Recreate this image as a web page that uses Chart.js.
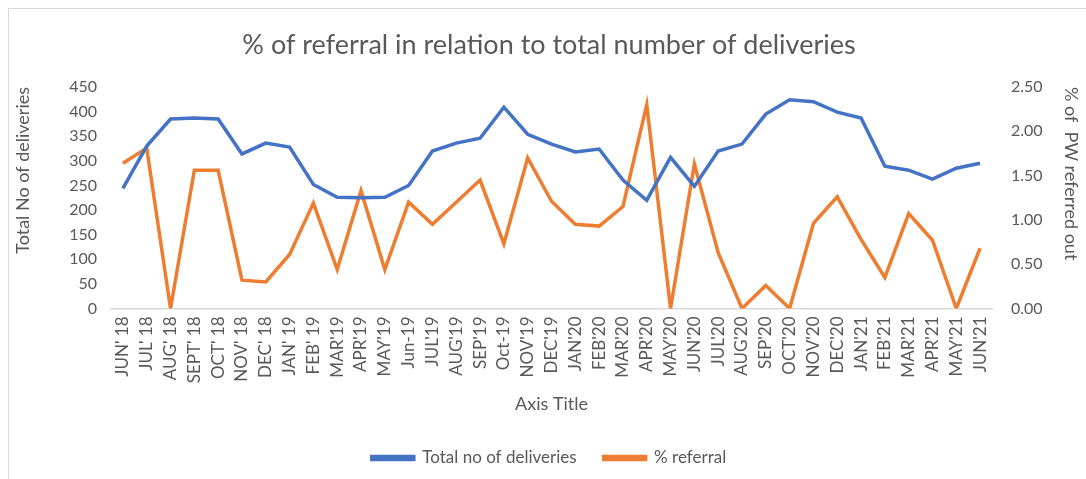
<!DOCTYPE html>
<html>
<head>
<meta charset="utf-8">
<script src="https://cdn.jsdelivr.net/npm/chart.js@4"></script>
<style>
  html, body { margin: 0; padding: 0; background: #fff; }
  #wrap { position: relative; width: 1086px; height: 479px; }
  #frame { position: absolute; left: 8px; top: 8px; right: -2px; bottom: -2px; border: 1px solid #d9d9d9; }
</style>
</head>
<body>
<div id="wrap">
  <div id="frame"></div>
  <canvas id="referralChart" width="1086" height="479"></canvas>
</div>
<script>
// months on the x axis
const months = ["JUN' 18", "JUL' 18", "AUG' 18", "SEPT' 18", "OCT' 18", "NOV' 18", "DEC' 18",
    "JAN' 19", "FEB' 19", "MAR'19", "APR'19", "MAY'19", "Jun-19", "JUL'19", "AUG'19", "SEP'19",
    "Oct-19", "NOV'19", "DEC'19", "JAN'20", "FEB'20", "MAR'20", "APR'20", "MAY'20", "JUN'20",
    "JUL'20", "AUG'20", "SEP'20", "OCT'20", "NOV'20", "DEC'20", "JAN'21", "FEB'21", "MAR'21",
    "APR'21", "MAY'21", "JUN'21"];

// total deliveries (left axis)
const totalDeliveries = [244, 330, 385, 387, 385, 314, 336, 328, 252, 226, 225, 226, 250,
    320, 336, 346, 409, 354, 334, 318, 324, 261, 220, 307, 248, 320, 334, 395, 424, 420,
    399, 387, 289, 281, 263, 285, 295];

// % referral (right axis)
const pctReferral = [1.64, 1.81, 0, 1.56, 1.56, 0.32, 0.30, 0.61, 1.19, 0.44, 1.33, 0.44, 1.20,
    0.95, 1.20, 1.45, 0.73, 1.70, 1.21, 0.95, 0.93, 1.15, 2.30, 0, 1.63, 0.63, 0, 0.26, 0,
    0.96, 1.26, 0.78, 0.35, 1.07, 0.77, 0, 0.68];

const textColor = "#595959";
const fontFamily = "Lato, 'Open Sans', sans-serif";

const ctx = document.getElementById("referralChart");
new Chart(ctx, {
    type: "line",
    data: {
        labels: months,
        datasets: [{
            label: "Total no of deliveries",
            data: totalDeliveries,
            yAxisID: "y",
            borderColor: "#4472c4",
            backgroundColor: "#4472c4",
            borderWidth: 3.5,
            pointRadius: 0,
            tension: 0,
        }, {
            label: "% referral",
            data: pctReferral,
            yAxisID: "y1",
            borderColor: "#ed7d31",
            backgroundColor: "#ed7d31",
            borderWidth: 3.5,
            pointRadius: 0,
            tension: 0,
        }]
    },
    options: {
        responsive: false,
        animation: false,
        layout: { padding: { left: 12, right: 0, top: 0, bottom: 2.5 } },
        plugins: {
            title: {
                display: true,
                text: "% of referral in relation to total number of deliveries",
                color: textColor,
                font: { family: fontFamily, size: 27, weight: "normal" },
                padding: { top: 28.8, bottom: 25.8 }
            },
            legend: {
                position: "bottom",
                labels: {
                    color: textColor,
                    font: { family: fontFamily, size: 17 },
                    boxWidth: 42,
                    boxHeight: 3,
                    padding: 27
                }
            },
            tooltip: { enabled: false }
        },
        scales: {
            x: {
                offset: true,
                grid: { display: false, drawTicks: false },
                border: { color: "#d9d9d9", width: 1.5 },
                ticks: {
                    color: textColor,
                    font: { family: fontFamily, size: 17 },
                    minRotation: 90,
                    maxRotation: 90,
                    autoSkip: false,
                    padding: 8
                },
                title: {
                    display: true,
                    text: "Axis Title",
                    color: textColor,
                    font: { family: fontFamily, size: 18 },
                    padding: { top: 4, bottom: 8 }
                },
                afterFit: (scale) => { scale.height = 114; }
            },
            y: {
                position: "left",
                min: 0,
                max: 450,
                grid: { display: false },
                border: { display: false },
                ticks: {
                    stepSize: 50,
                    color: textColor,
                    font: { family: fontFamily, size: 16 },
                    padding: 6
                },
                title: {
                    display: true,
                    text: "Total No of deliveries",
                    align: "end",
                    color: textColor,
                    font: { family: fontFamily, size: 18 },
                    padding: { top: 0, bottom: 4 }
                },
                afterFit: (scale) => { scale.width = 99; }
            },
            y1: {
                position: "right",
                min: 0,
                max: 2.5,
                grid: { display: false },
                border: { display: false },
                ticks: {
                    stepSize: 0.5,
                    color: textColor,
                    font: { family: fontFamily, size: 16 },
                    padding: 11,
                    callback: (v) => Number(v).toFixed(2)
                },
                title: {
                    display: true,
                    text: "% of  PW referred out",
                    align: "end",
                    color: textColor,
                    font: { family: fontFamily, size: 18 },
                    padding: { top: 4, bottom: 0 }
                },
                afterFit: (scale) => { scale.width = 94; }
            }
        }
    }
});
</script>
</body>
</html>
